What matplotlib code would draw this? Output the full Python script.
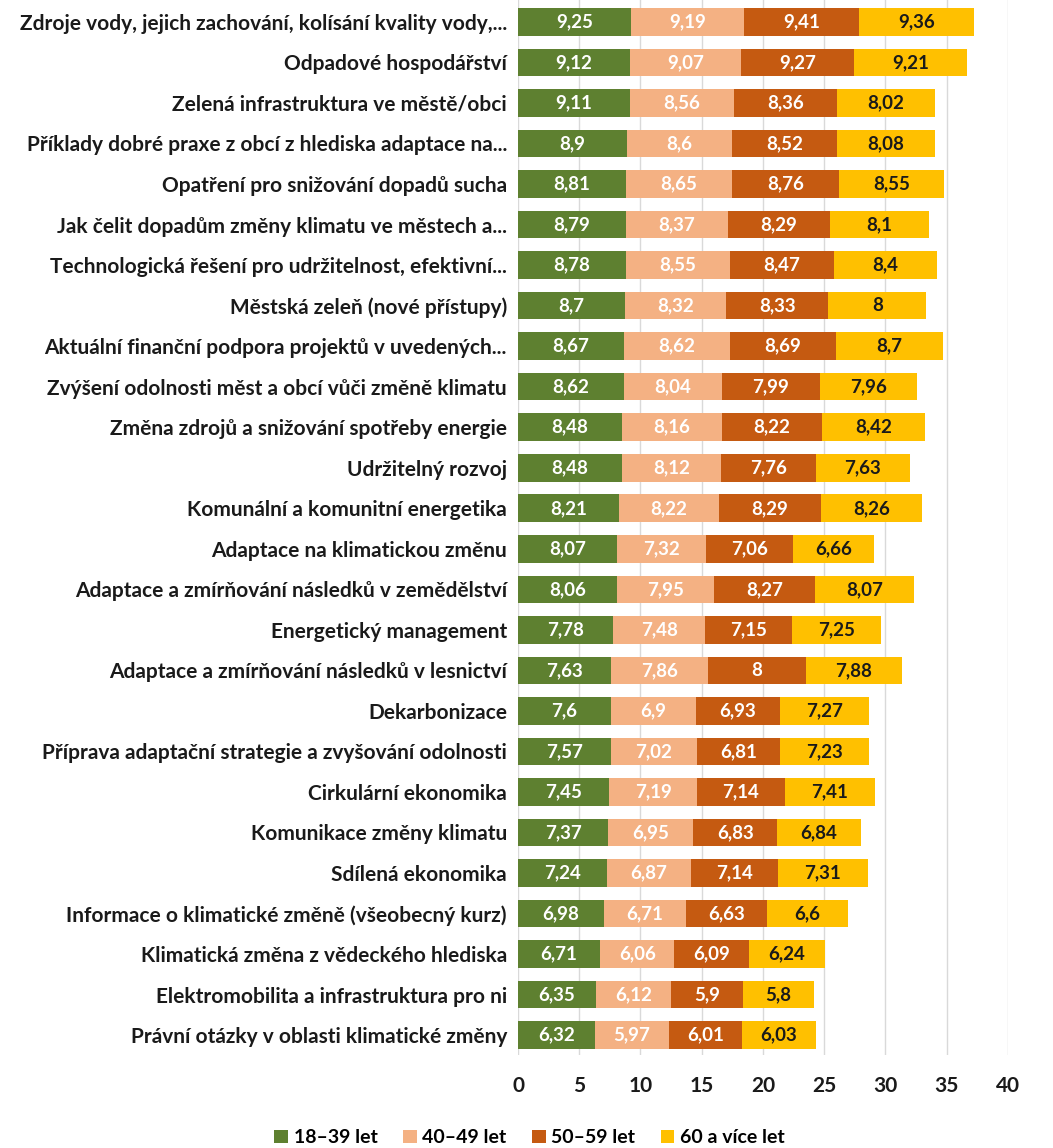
import matplotlib
matplotlib.use('Agg')
import matplotlib.pyplot as plt
import numpy as np

plt.rcParams['font.family'] = ['Lato', 'DejaVu Sans']

categories = [
    'Zdroje vody, jejich zachování, kolísání kvality vody,...',
    'Odpadové hospodářství',
    'Zelená infrastruktura ve městě/obci',
    'Příklady dobré praxe z obcí z hlediska adaptace na...',
    'Opatření pro snižování dopadů sucha',
    'Jak čelit dopadům změny klimatu ve městech a...',
    'Technologická řešení pro udržitelnost, efektivní...',
    'Městská zeleň (nové přístupy)',
    'Aktuální finanční podpora projektů v uvedených...',
    'Zvýšení odolnosti měst a obcí vůči změně klimatu',
    'Změna zdrojů a snižování spotřeby energie',
    'Udržitelný rozvoj',
    'Komunální a komunitní energetika',
    'Adaptace na klimatickou změnu',
    'Adaptace a zmírňování následků v zemědělství',
    'Energetický management',
    'Adaptace a zmírňování následků v lesnictví',
    'Dekarbonizace',
    'Příprava adaptační strategie a zvyšování odolnosti',
    'Cirkulární ekonomika',
    'Komunikace změny klimatu',
    'Sdílená ekonomika',
    'Informace o klimatické změně (všeobecný kurz)',
    'Klimatická změna z vědeckého hlediska',
    'Elektromobilita a infrastruktura pro ni',
    'Právní otázky v oblasti klimatické změny',
]

age_18_39 = [9.25, 9.12, 9.11, 8.9, 8.81, 8.79, 8.78, 8.7, 8.67, 8.62, 8.48, 8.48, 8.21,
             8.07, 8.06, 7.78, 7.63, 7.6, 7.57, 7.45, 7.37, 7.24, 6.98, 6.71, 6.35, 6.32]
age_40_49 = [9.19, 9.07, 8.56, 8.6, 8.65, 8.37, 8.55, 8.32, 8.62, 8.04, 8.16, 8.12, 8.22,
             7.32, 7.95, 7.48, 7.86, 6.9, 7.02, 7.19, 6.95, 6.87, 6.71, 6.06, 6.12, 5.97]
age_50_59 = [9.41, 9.27, 8.36, 8.52, 8.76, 8.29, 8.47, 8.33, 8.69, 7.99, 8.22, 7.76, 8.29,
             7.06, 8.27, 7.15, 8.0, 6.93, 6.81, 7.14, 6.83, 7.14, 6.63, 6.09, 5.9, 6.01]
age_60 = [9.36, 9.21, 8.02, 8.08, 8.55, 8.1, 8.4, 8.0, 8.7, 7.96, 8.42, 7.63, 8.26,
          6.66, 8.07, 7.25, 7.88, 7.27, 7.23, 7.41, 6.84, 7.31, 6.6, 6.24, 5.8, 6.03]

series = [age_18_39, age_40_49, age_50_59, age_60]
labels = ['18–39 let', '40–49 let', '50–59 let', '60 a více let']
colors = ['#5E8030', '#F4B183', '#C55A11', '#FFC000']
text_colors = ['white', 'white', 'white', '#1a1a1a']

fig = plt.figure(figsize=(10.53, 11.48), dpi=100)
ax = fig.add_axes([0.492, 0.081, 0.465, 0.919])

y = np.arange(len(categories))
left = np.zeros(len(categories))
for vals, lab, col, tcol in zip(series, labels, colors, text_colors):
    vals = np.array(vals)
    bars = ax.barh(y, vals, left=left, height=0.68, color=col, label=lab, zorder=3)
    for b, v in zip(bars, vals):
        txt = ('%g' % v).replace('.', ',')
        ax.text(b.get_x() + b.get_width() / 2, b.get_y() + b.get_height() / 2, txt,
                ha='center', va='center', color=tcol, fontsize=13.5, fontweight='bold', zorder=4)
    left += vals

ax.set_ylim(25.49, -0.54)
ax.set_xlim(0, 40)
ax.set_xticks(range(0, 41, 5))
ax.set_yticks(y)
ax.set_yticklabels(categories, fontsize=15, fontweight='bold', color='#1a1a1a')
ax.tick_params(axis='y', length=0, pad=8)
ax.tick_params(axis='x', length=0, pad=15, labelsize=15, labelcolor='#1a1a1a')
for t in ax.get_xticklabels():
    t.set_fontweight('bold')
ax.grid(axis='x', color='#d9d9d9', linewidth=1, zorder=0)
for s in ax.spines.values():
    s.set_visible(False)

ax.legend(loc='center', bbox_to_anchor=(0.503, 0.009), bbox_transform=fig.transFigure,
          ncol=4, frameon=False, handlelength=0.7, handleheight=0.7, handletextpad=0.3,
          columnspacing=1.3, prop={'size': 14, 'weight': 'bold'})

fig.savefig('out.png', dpi=100)
